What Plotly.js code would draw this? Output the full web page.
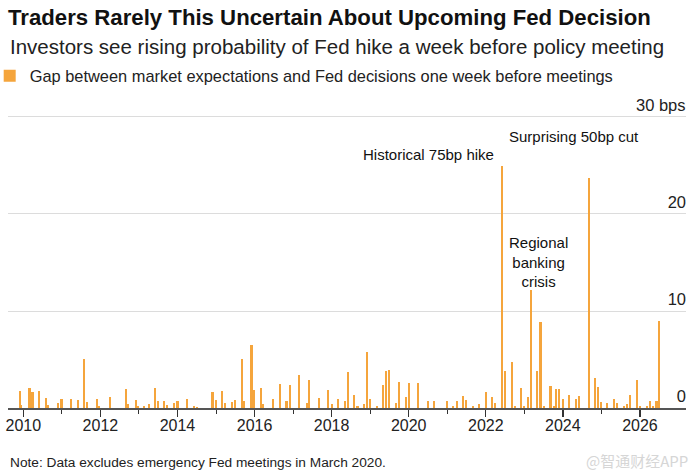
<!DOCTYPE html>
<html>
<head>
<meta charset="utf-8">
<script src="https://cdn.plot.ly/plotly-3.0.1.min.js"></script>
<style>
  html, body { margin: 0; padding: 0; background: #fff; }
  #chart { width: 695px; height: 475px; }
</style>
</head>
<body>
<div id="chart"></div>
<script>
// Meeting dates (decimal years)
const meetingYear = [
  2009.91, 2009.95, 2010.16, 2010.24, 2010.41, 2010.58, 2010.63, 2010.91, 2010.99,
  2011.24, 2011.41, 2011.58, 2011.65, 2011.91, 2011.96,
  2012.25, 2012.67, 2012.72, 2012.92, 2012.98,
  2013.13, 2013.26, 2013.42, 2013.50, 2013.66, 2013.73, 2013.90,
  2014.00, 2014.25, 2014.43, 2014.51, 2014.91,
  2015.00, 2015.16, 2015.23, 2015.42, 2015.49, 2015.67, 2015.73, 2015.92, 2015.99,
  2016.17, 2016.22, 2016.49, 2016.66, 2016.83, 2016.92,
  2017.16, 2017.35, 2017.42, 2017.67, 2017.91,
  2018.00, 2018.17, 2018.35, 2018.42, 2018.59, 2018.67, 2018.83, 2018.92,
  2019.00, 2019.17, 2019.33, 2019.40, 2019.49, 2019.67, 2019.75, 2019.93,
  2020.01, 2020.24, 2020.49, 2020.66, 2020.99,
  2021.16, 2021.25, 2021.42, 2021.49, 2021.67, 2021.83,
  2022.00, 2022.17, 2022.24, 2022.43, 2022.49, 2022.67, 2022.76, 2022.91,
  2023.00, 2023.09, 2023.17, 2023.34, 2023.42, 2023.51, 2023.68, 2023.76, 2023.83, 2023.91,
  2024.00, 2024.17, 2024.33, 2024.41, 2024.67, 2024.83, 2024.91,
  2025.00, 2025.15, 2025.33, 2025.41, 2025.59, 2025.67, 2025.75, 2025.92,
  2026.00, 2026.18, 2026.25, 2026.33, 2026.43, 2026.50
];
// Gap between market expectations and Fed decisions (bps)
const gapBps = [
  1.76, 0.3, 2.05, 1.63, 1.78, 1.07, 0.35, 0.5, 0.9,
  0.95, 0.78, 5.07, 0.6, 0.97, 0.25,
  1.17, 2.0, 0.45, 0.78, 0.25,
  0.2, 0.4, 2.05, 0.76, 0.68, 0.3, 0.47,
  0.75, 0.93, 0.2, 0.15, 1.6,
  0.78, 1.78, 0.5, 0.6, 0.78, 5.08, 0.76, 6.5, 1.82,
  2.07, 0.45, 0.97, 2.5, 0.7, 2.4,
  3.4, 0.5, 2.86, 1.08, 1.9,
  0.38, 0.97, 0.76, 3.7, 1.38, 0.17, 0.38, 5.76,
  0.95, 0.24, 2.35, 3.8, 3.88, 0.5, 2.65, 1.14,
  2.57, 2.6, 0.7, 0.7, 0.7,
  0.25, 0.7, 1.25, 0.86, 0.25, 0.45,
  1.6, 1.12, 0.55, 24.9, 3.8, 4.75, 0.25, 2.1,
  0.2, 1.1, 12.2, 3.8, 8.85, 0.25, 2.3, 0.2, 1.95, 1.95,
  0.95, 1.38, 0.95, 1.25, 23.7, 3.1, 2.2,
  0.6, 0.55, 0.93, 0.55, 0.24, 0.45, 1.38, 2.87,
  0.2, 0.2, 0.77, 0.17, 0.77, 9.0
];
const yTickVals = [0, 10, 20, 30];
const yTickText = ["0", "10", "20", ""];
const yTopLabel = {value: 30, text: "30 bps"};
const xTickVals = [2010, 2012, 2014, 2016, 2018, 2020, 2022, 2024, 2026];
const xTickText = ["2010", "2012", "2014", "2016", "2018", "2020", "2022", "2024", "2026"];
const notes = [
  {text: "Historical 75bp hike", x: 2022.27, y: 26.1, align: "right", xanchor: "right"},
  {text: "Surprising 50bp cut", x: 2024.28, y: 28.0, align: "center", xanchor: "center"},
  {text: "Regional<br>banking<br>crisis", x: 2023.38, y: 15.05, align: "center", xanchor: "center"}
];

const ORANGE = "#F5A53C";
const FONT = "Liberation Sans, Arial, Helvetica, sans-serif";

const trace = {
  type: "bar",
  x: meetingYear,
  y: gapBps,
  width: 0.055,
  marker: {color: ORANGE, line: {width: 0}},
  name: "Gap between market expectations and Fed decisions one week before meetings",
  showlegend: true,
  hoverinfo: "skip"
};

// plot area: top 94px, bottom 408px (314px tall)
const annotations = notes.map(n => ({
  text: n.text, x: n.x, y: n.y, xref: "x", yref: "y",
  xanchor: n.xanchor, yanchor: "middle", align: n.align, showarrow: false,
  font: {family: FONT, size: 15, color: "#111"}
}));
annotations.push({
  text: yTopLabel.text,
  xref: "paper", yref: "y", x: 1, y: yTopLabel.value, xanchor: "right", yanchor: "bottom",
  yshift: 2, xshift: 1, showarrow: false, borderpad: 0,
  font: {family: FONT, size: 16.5, color: "#222"}
});
annotations.push({
  text: "Investors see rising probability of Fed hike a week before policy meeting",
  xref: "paper", yref: "paper", x: 0, y: 1.1497, xanchor: "left", yanchor: "middle",
  showarrow: false, font: {family: FONT, size: 20.5, color: "#222"}
});
annotations.push({
  text: "Note: Data excludes emergency Fed meetings in March 2020.",
  xref: "paper", yref: "paper", x: 0, y: -0.175, xanchor: "left", yanchor: "middle",
  showarrow: false, font: {family: FONT, size: 13.7, color: "#222"}
});
annotations.push({
  text: "@智通财经APP",
  xref: "paper", yref: "paper", x: 1.006, y: -0.166, xanchor: "right", yanchor: "middle",
  showarrow: false, font: {family: "Noto Sans CJK SC, sans-serif", size: 15, color: "#d6d6d6"}
});

const layout = {
  width: 695, height: 475,
  margin: {l: 8, r: 9, t: 94, b: 67, autoexpand: false},
  paper_bgcolor: "#fff", plot_bgcolor: "#fff",
  bargap: 0,
  title: {
    text: "<b>Traders Rarely This Uncertain About Upcoming Fed Decision</b>",
    x: 8 / 695, xref: "container", xanchor: "left",
    y: 1 - 9 / 475, yref: "container", yanchor: "top",
    font: {family: FONT, size: 22.2, color: "#111"}
  },
  showlegend: true,
  legend: {
    x: -0.027, y: 1.057, xanchor: "left", yanchor: "middle", orientation: "h",
    font: {family: FONT, size: 16.4, color: "#222"},
    itemwidth: 30, bgcolor: "rgba(0,0,0,0)"
  },
  xaxis: {
    type: "linear",
    range: [2009.603, 2027.195],
    tickvals: xTickVals, ticktext: xTickText,
    ticks: "outside", ticklen: 7, tickwidth: 1.3, tickcolor: "#333",
    ticklabelstandoff: -5,
    minor: {dtick: 1, tick0: 2009, ticks: "outside", ticklen: 4, tickwidth: 1, tickcolor: "#333", showgrid: false},
    showline: true, linecolor: "#555", linewidth: 2,
    showgrid: false, zeroline: false,
    tickfont: {family: FONT, size: 16, color: "#222"}
  },
  yaxis: {
    range: [0, 32.37],
    side: "right",
    tickvals: yTickVals, ticktext: yTickText,
    ticklabelposition: "inside top",
    ticklabelstandoff: -3,
    ticks: "",
    showgrid: true, gridcolor: "#dcdcdc", gridwidth: 1,
    zeroline: false, showline: false,
    tickfont: {family: FONT, size: 16.5, color: "#222"}
  },
  annotations: annotations
};

Plotly.newPlot("chart", [trace], layout, {staticPlot: true, displayModeBar: false});
</script>
</body>
</html>
